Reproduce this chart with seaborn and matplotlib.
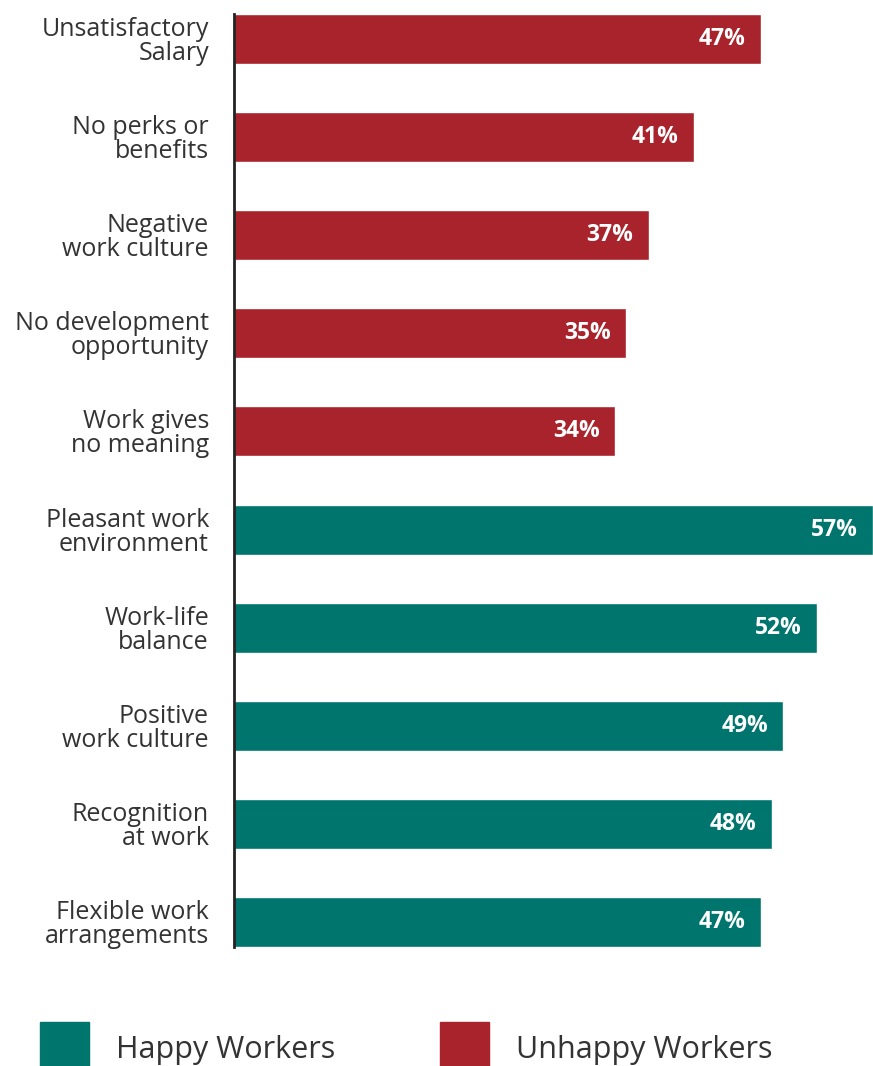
import matplotlib
matplotlib.use("Agg")
import matplotlib.pyplot as plt
import seaborn as sns
import pandas as pd
from matplotlib.patches import Rectangle

categories = [
    "Unsatisfactory\nSalary",
    "No perks or\nbenefits",
    "Negative\nwork culture",
    "No development\nopportunity",
    "Work gives\nno meaning",
    "Pleasant work\nenvironment",
    "Work-life\nbalance",
    "Positive\nwork culture",
    "Recognition\nat work",
    "Flexible work\narrangements",
]
values = [47, 41, 37, 35, 34, 57, 52, 49, 48, 47]
groups = ["Unhappy Workers"] * 5 + ["Happy Workers"] * 5
legend_order = ["Happy Workers", "Unhappy Workers"]

RED = "#A8232B"
TEAL = "#00756E"
TEXT = "#333333"

df = pd.DataFrame({"reason": categories, "pct": values, "group": groups})

sns.set_theme(style="white")
plt.rcParams["font.family"] = ["Open Sans", "DejaVu Sans"]

fig = plt.figure(figsize=(8.73, 10.66), dpi=100)
ax = fig.add_axes([0.268, 0.1116, 0.732, 0.8753])

sns.barplot(data=df, x="pct", y="reason", hue="group",
            palette={"Unhappy Workers": RED, "Happy Workers": TEAL},
            dodge=False, width=0.51, saturation=1, legend=False, ax=ax)

ax.set_xlim(0, 57)
ax.set_ylim(9.255, -0.255)
ax.set_xlabel("")
ax.set_ylabel("")
ax.set_xticks([])
for s in ["top", "right", "bottom"]:
    ax.spines[s].set_visible(False)
ax.spines["left"].set_color("#222222")
ax.spines["left"].set_linewidth(2)
ax.tick_params(axis="y", length=0, pad=18, labelsize=18, labelcolor=TEXT)
for lab in ax.get_yticklabels():
    lab.set_horizontalalignment("right")
    lab.set_linespacing(0.95)

for container in ax.containers:
    ax.bar_label(container, labels=[f"{int(round(b.get_width()))}%" for b in container],
                 padding=-11, color="white", fontsize=16.5, fontweight="bold")
for t in ax.texts:
    t.set_horizontalalignment("right")

# legend drawn in figure space
colors = {"Happy Workers": TEAL, "Unhappy Workers": RED}
xs = [40, 440]
for name, x0 in zip(legend_order, xs):
    fig.patches.append(Rectangle((x0 / 873, 0.0), 49 / 873, 44 / 1066,
                                 transform=fig.transFigure, color=colors[name]))
    fig.text((x0 + 76) / 873, (1066 - 1058) / 1066, name, fontsize=22,
             color=TEXT, ha="left", va="baseline")

fig.savefig("out.png", dpi=100)
